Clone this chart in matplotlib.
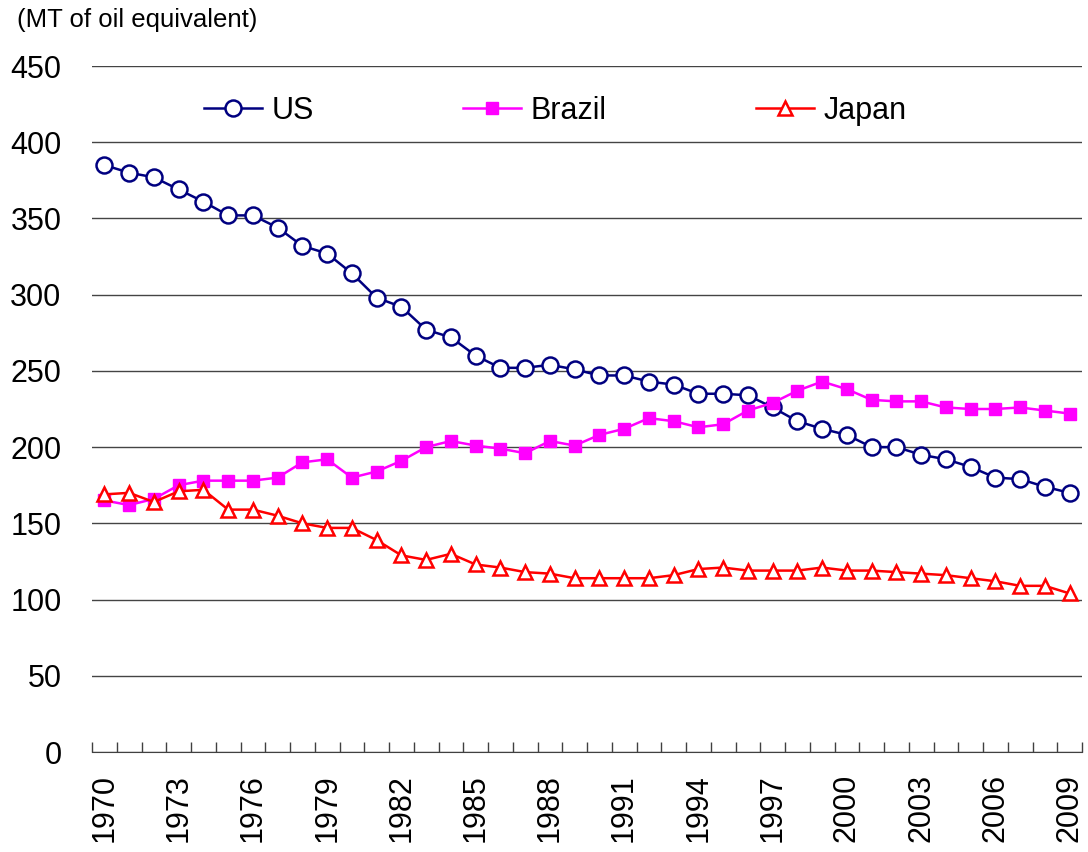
import matplotlib
matplotlib.use('Agg')
import matplotlib.pyplot as plt
import numpy as np

plt.rcParams['font.family'] = ['Liberation Sans', 'DejaVu Sans']

years = list(range(1970, 2010))
us = [385, 380, 377, 369, 361, 352, 352, 344, 332, 327,
      314, 298, 292, 277, 272, 260, 252, 252, 254, 251,
      247, 247, 243, 241, 235, 235, 234, 226, 217, 212,
      208, 200, 200, 195, 192, 187, 180, 179, 174, 170]
brazil = [165, 162, 166, 175, 178, 178, 178, 180, 190, 192,
          180, 184, 191, 200, 204, 201, 199, 196, 204, 201,
          208, 212, 219, 217, 213, 215, 224, 229, 237, 243,
          238, 231, 230, 230, 226, 225, 225, 226, 224, 222]
japan = [169, 170, 164, 171, 172, 159, 159, 155, 150, 147,
         147, 139, 129, 126, 130, 123, 121, 118, 117, 114,
         114, 114, 114, 116, 120, 121, 119, 119, 119, 121,
         119, 119, 118, 117, 116, 114, 112, 109, 109, 104]

fig = plt.figure(figsize=(10.88, 8.52), dpi=100)
ax = fig.add_axes([92 / 1088, 1 - 752 / 852, 990 / 1088, 686 / 852])

x = np.arange(len(years))
ax.plot(x, us, color='#000080', lw=1.8, marker='o', ms=11.5,
        mfc='white', mec='#000080', mew=1.8, label='US', zorder=3)
ax.plot(x, brazil, color='#FF00FF', lw=1.8, marker='s', ms=8.5,
        mfc='#FF00FF', mec='#FF00FF', label='Brazil', zorder=3)
ax.plot(x, japan, color='#FF0000', lw=1.8, marker='^', ms=10.5,
        mfc='white', mec='#FF0000', mew=1.8, label='Japan', zorder=3)

ax.set_xlim(-0.5, len(years) - 0.5)
ax.set_ylim(0, 450)
ax.set_yticks(range(0, 451, 50))
ax.yaxis.grid(True, color='#444444', lw=1.0)
ax.set_axisbelow(True)
ax.tick_params(axis='y', length=0, labelsize=22, pad=22)

ax.set_xticks(x[::3])
ax.set_xticklabels([str(y) for y in years[::3]], rotation=90)
ax.set_xticks(np.arange(-0.5, len(years)), minor=True)
ax.tick_params(axis='x', which='major', length=0, labelsize=22, pad=16)
ax.tick_params(axis='x', which='minor', direction='in', length=7,
               width=1, color='#404040')

for s in ['top', 'right', 'left']:
    ax.spines[s].set_visible(False)
ax.spines['bottom'].set_color('#404040')

fig.text(17 / 1088, 1 - 20 / 852, '(MT of oil equivalent)', fontsize=18.5,
         va='center', ha='left')

leg = ax.legend(loc='center', bbox_to_anchor=(0.468, 0.935), ncol=3,
                fontsize=22, frameon=True, fancybox=False,
                columnspacing=4.9, handlelength=1.9, handletextpad=0.3,
                borderpad=0.5)
leg.get_frame().set_facecolor('white')
leg.get_frame().set_edgecolor('none')
leg.get_frame().set_alpha(1)

plt.savefig('out.png', dpi=100)
